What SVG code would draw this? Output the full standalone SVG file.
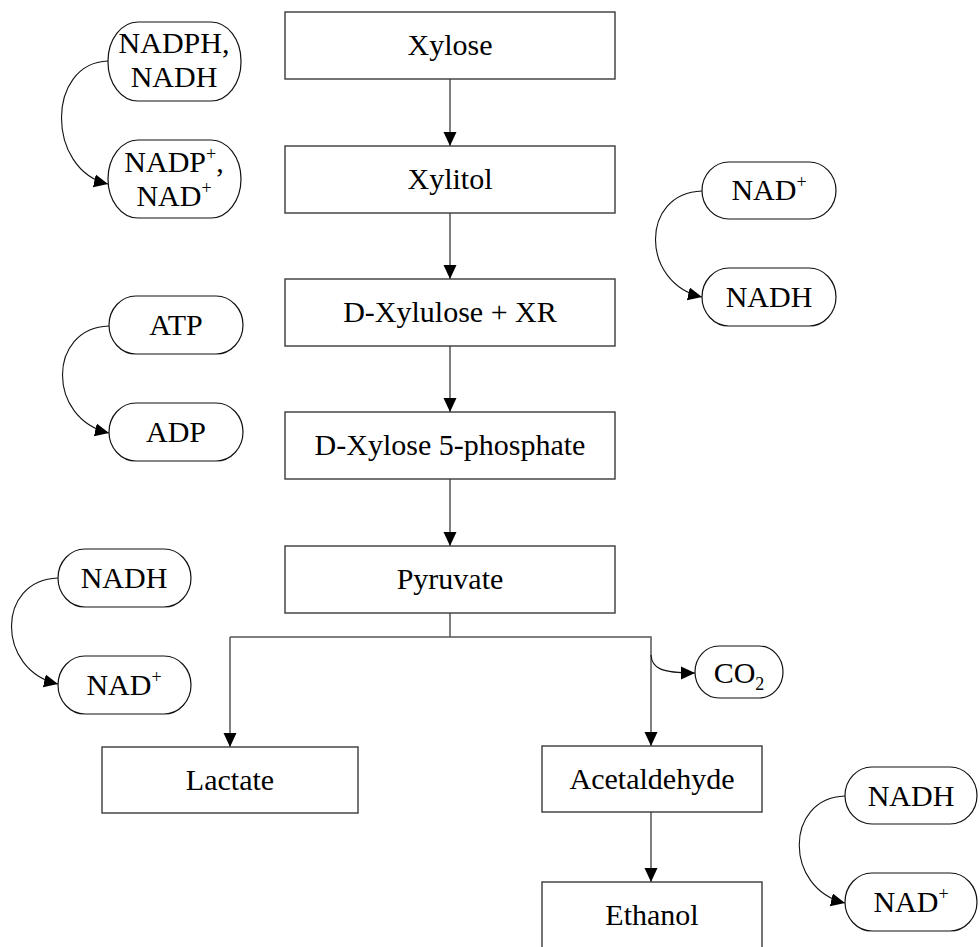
<svg xmlns="http://www.w3.org/2000/svg" width="980" height="947" viewBox="0 0 980 947">
<style>
.box{fill:#fff;stroke:#3a3a3a;stroke-width:1.4}
.pill{fill:#fff;stroke:#111;stroke-width:1.2}
.t{font-family:"Liberation Serif","Times New Roman",serif;font-size:30px;fill:#000;text-anchor:middle}
.sup{font-size:18px}
.ln{fill:none;stroke:#555;stroke-width:1.5}
.cv{fill:none;stroke:#111;stroke-width:1.1}
</style>
<defs>
<marker id="ah" markerUnits="userSpaceOnUse" markerWidth="14" markerHeight="14" refX="14" refY="7" orient="auto" viewBox="0 0 14 14">
<path d="M0,0.5 L14,7 L0,13.5 z" fill="#000"/>
</marker>
</defs>
<g id="connectors">
<line class="ln" x1="450" y1="79" x2="450" y2="146" marker-end="url(#ah)"/>
<line class="ln" x1="450" y1="213" x2="450" y2="279" marker-end="url(#ah)"/>
<line class="ln" x1="450" y1="346" x2="450" y2="412" marker-end="url(#ah)"/>
<line class="ln" x1="450" y1="479" x2="450" y2="546" marker-end="url(#ah)"/>
<polyline class="ln" points="450,613 450,637"/>
<polyline class="ln" points="230,637 651,637 651,746" marker-end="url(#ah)"/>
<line class="ln" x1="230" y1="637" x2="230" y2="747" marker-end="url(#ah)"/>
<line class="ln" x1="651" y1="812" x2="651" y2="882" marker-end="url(#ah)"/>
<path class="cv" d="M651,655 C652,668 660,673 695,673" marker-end="url(#ah)"/>
<path class="cv" d="M108,61 C46,63 46,170 108,184" marker-end="url(#ah)"/>
<path class="cv" d="M109,326 C47,328 47,419 109,433" marker-end="url(#ah)"/>
<path class="cv" d="M702,191 C640,193 640,283 702,297" marker-end="url(#ah)"/>
<path class="cv" d="M58,578 C-4,580 -4,670 58,684" marker-end="url(#ah)"/>
<path class="cv" d="M845,796 C784,798 784,889 845,903" marker-end="url(#ah)"/>
</g>
<g id="xylose"><rect class="box" x="285" y="12" width="330" height="67"/><text class="t" x="450" y="55">Xylose</text></g>
<g id="xylitol"><rect class="box" x="285" y="146" width="330" height="67"/><text class="t" x="450" y="189">Xylitol</text></g>
<g id="dxylulose"><rect class="box" x="285" y="279" width="330" height="67"/><text class="t" x="450" y="322">D-Xylulose + XR</text></g>
<g id="dxylose5p"><rect class="box" x="285" y="412" width="330" height="67"/><text class="t" x="450" y="455">D-Xylose 5-phosphate</text></g>
<g id="pyruvate"><rect class="box" x="285" y="546" width="330" height="67"/><text class="t" x="450" y="589">Pyruvate</text></g>
<g id="lactate"><rect class="box" x="102" y="747" width="256" height="66"/><text class="t" x="230" y="790">Lactate</text></g>
<g id="acetaldehyde"><rect class="box" x="542" y="746" width="220" height="66"/><text class="t" x="652" y="789">Acetaldehyde</text></g>
<g id="ethanol"><rect class="box" x="542" y="882" width="220" height="70"/><text class="t" x="652" y="925">Ethanol</text></g>
<g id="nadph"><rect class="pill" x="108" y="22" width="133" height="79" rx="30" ry="39"/><text class="t" x="174" y="53">NADPH,</text><text class="t" x="174" y="87">NADH</text></g>
<g id="nadp"><rect class="pill" x="108" y="140" width="133" height="78" rx="30" ry="39"/><text class="t" x="174" y="172">NADP<tspan class="sup" dy="-12">+</tspan><tspan dy="12">,</tspan></text><text class="t" x="174" y="206">NAD<tspan class="sup" dy="-12">+</tspan></text></g>
<g id="atp"><rect class="pill" x="109" y="296" width="134" height="58" rx="27" ry="29"/><text class="t" x="176" y="335">ATP</text></g>
<g id="adp"><rect class="pill" x="109" y="403" width="134" height="58" rx="27" ry="29"/><text class="t" x="176" y="442">ADP</text></g>
<g id="nad-r1"><rect class="pill" x="702" y="162" width="134" height="57" rx="27" ry="28.5"/><text class="t" x="769" y="200">NAD<tspan class="sup" dy="-12">+</tspan></text></g>
<g id="nadh-r1"><rect class="pill" x="702" y="268" width="134" height="58" rx="27" ry="29"/><text class="t" x="769" y="307">NADH</text></g>
<g id="nadh-l"><rect class="pill" x="58" y="549" width="133" height="58" rx="27" ry="29"/><text class="t" x="124" y="588">NADH</text></g>
<g id="nad-l"><rect class="pill" x="58" y="656" width="133" height="58" rx="27" ry="29"/><text class="t" x="124" y="695">NAD<tspan class="sup" dy="-12">+</tspan></text></g>
<g id="co2"><rect class="pill" x="695" y="646" width="88" height="52" rx="24" ry="26"/><text class="t" x="739" y="683">CO<tspan class="sup" dy="7">2</tspan></text></g>
<g id="nadh-r2"><rect class="pill" x="845" y="767" width="132" height="57" rx="27" ry="28.5"/><text class="t" x="911" y="806">NADH</text></g>
<g id="nad-r2"><rect class="pill" x="845" y="873" width="132" height="58" rx="27" ry="29"/><text class="t" x="911" y="912">NAD<tspan class="sup" dy="-12">+</tspan></text></g>
</svg>
